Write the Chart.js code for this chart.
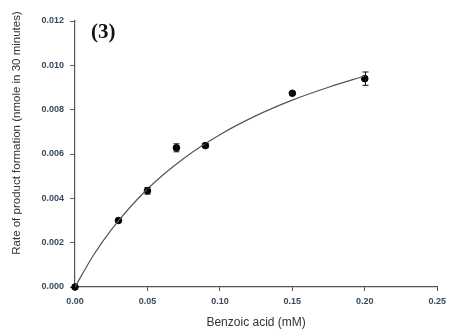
<!DOCTYPE html>
<html>
<head>
<meta charset="utf-8">
<script src="https://cdn.jsdelivr.net/npm/chart.js@4"></script>
<style>
  html, body { margin: 0; padding: 0; background: #fff; }
  #wrap { width: 451px; height: 331px; }
</style>
</head>
<body>
<div id="wrap"><canvas id="rate"></canvas></div>
<script>
// measured rates with standard error
const conc = [0, 0.03, 0.05, 0.07, 0.09, 0.15, 0.20];
const rate = [0, 0.0030, 0.00434, 0.00628, 0.00638, 0.00874, 0.00940];
const rateErr = [0, 0, 0.00015, 0.00018, 0.0001, 0.00005, 0.0003];

// fitted saturation curve
const fitX = [0, 0.0125, 0.025, 0.05, 0.075, 0.1, 0.125, 0.15, 0.175, 0.2];
const fitY = [0, 0.00141, 0.00258, 0.00442, 0.00580, 0.00687, 0.00773, 0.00843, 0.00901, 0.00952];

const xTicks = [0, 0.05, 0.10, 0.15, 0.20, 0.25];
const yTicks = [0, 0.002, 0.004, 0.006, 0.008, 0.010, 0.012];

const tickColor = '#3b4862';
const axisColor = '#555';

const errorBars = {
  id: 'errorBars',
  afterDatasetsDraw(chart) {
    const { ctx, scales: { x, y } } = chart;
    ctx.save();
    ctx.strokeStyle = '#111';
    ctx.lineWidth = 1;
    conc.forEach((c, i) => {
      if (!rateErr[i]) return;
      const px = Math.round(x.getPixelForValue(c)) + 0.5;
      const top = y.getPixelForValue(rate[i] + rateErr[i]);
      const bot = y.getPixelForValue(rate[i] - rateErr[i]);
      ctx.beginPath();
      ctx.moveTo(px, top); ctx.lineTo(px, bot);
      ctx.moveTo(px - 3, top); ctx.lineTo(px + 3, top);
      ctx.moveTo(px - 3, bot); ctx.lineTo(px + 3, bot);
      ctx.stroke();
    });
    ctx.restore();
  }
};

const labels = {
  id: 'labels',
  afterDraw(chart) {
    const { ctx } = chart;
    ctx.save();
    ctx.fillStyle = '#111';
    ctx.font = 'bold 21px "Liberation Serif"';
    ctx.textBaseline = 'alphabetic';
    ctx.fillText('(3)', 91, 38);

    ctx.translate(17, 133);
    ctx.rotate(-Math.PI / 2);
    ctx.font = '11.5px "Liberation Sans"';
    ctx.fillStyle = '#333';
    ctx.textAlign = 'center';
    ctx.textBaseline = 'middle';
    ctx.fillText('Rate of product formation (nmole in 30 minutes)', 0, 0);
    ctx.restore();
  }
};

new Chart(document.getElementById('rate'), {
  type: 'scatter',
  data: {
    datasets: [
      {
        type: 'line',
        data: fitX.map((v, i) => ({ x: v, y: fitY[i] })),
        borderColor: '#555',
        borderWidth: 1.2,
        pointRadius: 0,
        cubicInterpolationMode: 'monotone',
        fill: false
      },
      {
        data: conc.map((v, i) => ({ x: v, y: rate[i] })),
        backgroundColor: '#000',
        borderColor: '#000',
        pointRadius: 3.3,
        clip: false
      }
    ]
  },
  options: {
    responsive: true,
    maintainAspectRatio: false,
    animation: false,
    layout: { padding: { left: 0, right: 12, top: 21, bottom: 0 } },
    plugins: { legend: { display: false }, tooltip: { enabled: false } },
    scales: {
      x: {
        type: 'linear',
        min: 0,
        max: 0.25,
        afterBuildTicks: (s) => { s.ticks = xTicks.map(v => ({ value: v })); },
        afterFit: (s) => { s.height = 44; },
        border: { color: axisColor, width: 1.2 },
        grid: { drawOnChartArea: false, tickLength: 4, color: axisColor },
        ticks: {
          padding: 5,
          color: tickColor,
          font: { family: 'Liberation Sans', size: 9, weight: 'bold' },
          callback: (v) => v.toFixed(2)
        },
        title: {
          display: true,
          text: 'Benzoic acid (mM)',
          color: '#333',
          font: { family: 'Liberation Sans', size: 12 },
          padding: { top: 0, bottom: 1 }
        }
      },
      y: {
        min: 0,
        max: 0.012,
        afterBuildTicks: (s) => { s.ticks = yTicks.map(v => ({ value: v })); },
        afterFit: (s) => { s.width = 75; },
        border: { color: axisColor, width: 1.2 },
        grid: { drawOnChartArea: false, tickLength: 5, color: axisColor },
        ticks: {
          padding: 6,
          color: tickColor,
          font: { family: 'Liberation Sans', size: 9, weight: 'bold' },
          callback: (v) => v.toFixed(3)
        }
      }
    }
  },
  plugins: [errorBars, labels]
});
</script>
</body>
</html>
